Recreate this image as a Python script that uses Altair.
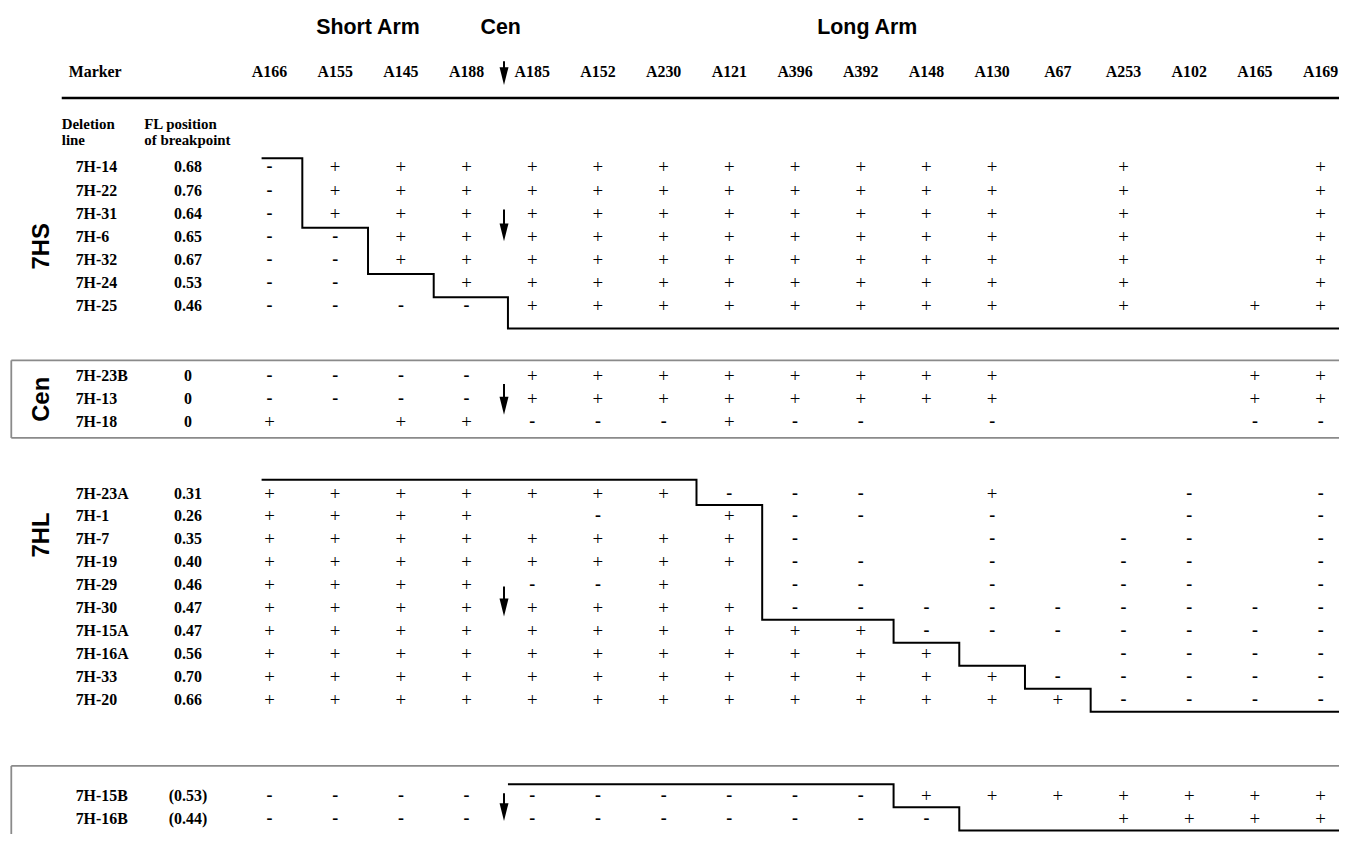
import altair as alt
import pandas as pd

# ---------------- data ----------------
markers = ["A166", "A155", "A145", "A188", "A185", "A152", "A230", "A121", "A396",
           "A392", "A148", "A130", "A67", "A253", "A102", "A165", "A169"]
arm_titles = ["Short Arm", "Cen", "Long Arm"]
section_names = ["7HS", "Cen", "7HL", ""]

hs_lines = ["7H-14", "7H-22", "7H-31", "7H-6", "7H-32", "7H-24", "7H-25"]
hs_fl = ["0.68", "0.76", "0.64", "0.65", "0.67", "0.53", "0.46"]
hs_calls = [
    "- + + + + + + + + + + + . + . . +",
    "- + + + + + + + + + + + . + . . +",
    "- + + + + + + + + + + + . + . . +",
    "- - + + + + + + + + + + . + . . +",
    "- - + + + + + + + + + + . + . . +",
    "- - . + + + + + + + + + . + . . +",
    "- - - - + + + + + + + + . + . + +",
]
hs_break = [1, 1, 1, 2, 2, 3, 4]

cen_lines = ["7H-23B", "7H-13", "7H-18"]
cen_fl = ["0", "0", "0"]
cen_calls = [
    "- - - - + + + + + + + + . . . + +",
    "- - - - + + + + + + + + . . . + +",
    "+ . + + - - - + - - . - . . . - -",
]

hl_lines = ["7H-23A", "7H-1", "7H-7", "7H-19", "7H-29", "7H-30", "7H-15A", "7H-16A", "7H-33", "7H-20"]
hl_fl = ["0.31", "0.26", "0.35", "0.40", "0.46", "0.47", "0.47", "0.56", "0.70", "0.66"]
hl_calls = [
    "+ + + + + + + - - - . + . . - . -",
    "+ + + + . - . + - - . - . . - . -",
    "+ + + + + + + + - . . - . - - . -",
    "+ + + + + + + + - - . - . - - . -",
    "+ + + + - - + . - - . - . - - . -",
    "+ + + + + + + + - - - - - - - - -",
    "+ + + + + + + + + + - - - - - - -",
    "+ + + + + + + + + + + . . - - - -",
    "+ + + + + + + + + + + + - - - - -",
    "+ + + + + + + + + + + + + - - - -",
]
hl_break = [7, 8, 8, 8, 8, 8, 10, 11, 12, 13]

tr_lines = ["7H-15B", "7H-16B"]
tr_fl = ["(0.53)", "(0.44)"]
tr_calls = [
    "- - - - - - - - - - + + + + + + +",
    "- - - - - - - - - - - . . + + + +",
]
tr_break = [10, 11]

# ---------------- layout ----------------
W, H = 1339, 826
X_DOMAIN = [-3.98, 16.28]
Y_DOMAIN = [8, 8 + H]
CEN_U = 3.57        # centromere arrow column position
CEN_STAIR = 3.63
END_U = 16.6
NAME_U, FL_U = -2.95, -1.24
MARKER_U, HEAD1_U, HEAD2_U = -3.056, -3.162, -1.906
SEC_LABEL_U = -3.464
BOX_U = -3.93
TITLE_Y, MARKER_Y, RULE_Y, HEAD_Y = 26, 70, 96, [122, 138]
title_u = [1.5, CEN_U - 0.05, 9.1]

sections = [
    dict(lines=hs_lines, fl=hs_fl, calls=hs_calls, brk=hs_break, y0=166, step=23.3,
         top=-0.4, mid=0.6, bot=0.95, arrow=2.5, alen=32, label=3.4, start=-0.12),
    dict(lines=cen_lines, fl=cen_fl, calls=cen_calls, brk=None, y0=376, step=23.2,
         arrow=1.0, alen=31, label=1.0),
    dict(lines=hl_lines, fl=hl_fl, calls=hl_calls, brk=hl_break, y0=494, step=23.1,
         top=-0.6, mid=0.5, bot=0.5, arrow=4.7, alen=30, label=1.8, start=-0.12),
    dict(lines=tr_lines, fl=tr_fl, calls=tr_calls, brk=tr_break, y0=798, step=23,
         top=-0.5, mid=0.5, bot=0.52, arrow=0.5, alen=28, label=None, start=CEN_STAIR),
]


def bx(k):
    return CEN_STAIR if k == 4 else k - 0.5


cells, names, fls, stair, arrows, seclabels = [], [], [], [], [], []
for si, s in enumerate(sections):
    y0, st = s["y0"], s["step"]
    for i, (nm, fl, calls) in enumerate(zip(s["lines"], s["fl"], s["calls"])):
        y = y0 + i * st
        for j, c in enumerate(calls.split()):
            if c in "+-":
                cells.append({"u": j, "y": y, "sym": c})
        names.append({"u": NAME_U, "y": y, "t": nm})
        fls.append({"u": FL_U, "y": y, "t": fl})
    c = y0 + s["arrow"] * st
    arrows.append({"c": c, "alen": s["alen"]})
    if s["label"] is not None:
        seclabels.append({"u": SEC_LABEL_U, "y": y0 + s["label"] * st, "t": section_names[si]})
    brk = s["brk"]
    if brk:
        n = len(brk)
        top = y0 + s["top"] * st
        bot = y0 + (n - 1 + s["bot"]) * st
        pts = [(s["start"], top), (bx(brk[0]), top)]
        prev = brk[0]
        for i in range(1, n):
            if brk[i] != prev:
                ym = y0 + (i - 1 + s["mid"]) * st
                pts.append((bx(prev), ym))
                pts.append((bx(brk[i]), ym))
                prev = brk[i]
        pts.append((bx(prev), bot))
        pts.append((END_U, bot))
        for o, (u, y) in enumerate(pts):
            stair.append({"sec": si, "o": o, "u": u, "y": y})

# header arrow
arrows.insert(0, {"c": MARKER_Y + 1, "alen": 24})
HEAD_H = 18
arrow_rows = []
for a in arrows:
    tip = a["c"] + a["alen"] / 2
    arrow_rows.append({"u": CEN_U, "ytop": a["c"] - a["alen"] / 2,
                       "yshaft": tip - HEAD_H + 2, "yhead": tip - HEAD_H / 2})

cells = pd.DataFrame(cells)
names = pd.DataFrame(names)
fls = pd.DataFrame(fls)
stair = pd.DataFrame(stair)
arrow_df = pd.DataFrame(arrow_rows)
seclab_df = pd.DataFrame(seclabels)
marker_df = pd.DataFrame({"u": list(range(len(markers))), "y": MARKER_Y, "t": markers})
title_df = pd.DataFrame({"u": title_u, "y": TITLE_Y, "t": arm_titles})
head_df = pd.DataFrame({
    "u": [HEAD1_U, HEAD1_U, HEAD2_U, HEAD2_U],
    "y": [HEAD_Y[0], HEAD_Y[1], HEAD_Y[0], HEAD_Y[1]],
    "t": ["Deletion", "line", "FL position", "of breakpoint"],
})
mk_df = pd.DataFrame({"u": [MARKER_U], "y": [MARKER_Y], "t": ["Marker"]})
rule_df = pd.DataFrame({"u": [HEAD1_U], "u2": [END_U], "y": [RULE_Y]})
box_h = pd.DataFrame({"u": [BOX_U, BOX_U, BOX_U], "u2": [END_U, END_U, END_U],
                      "y": [360, 438, 768]})
box_v = pd.DataFrame({"u": [BOX_U, BOX_U], "y": [360, 768], "y2": [438, 850]})

xs = alt.Scale(domain=X_DOMAIN, nice=False, zero=False)
ys = alt.Scale(domain=Y_DOMAIN, nice=False, zero=False, reverse=True)


def X(f):
    return alt.X(f"{f}:Q", scale=xs, axis=None)


def Y(f):
    return alt.Y(f"{f}:Q", scale=ys, axis=None)


SERIF = "Liberation Serif"
SANS = "Liberation Sans"

plus = alt.Chart(cells).transform_filter("datum.sym == '+'").mark_text(
    font=SERIF, fontSize=19, color="black", baseline="middle"
).encode(x=X("u"), y=Y("y"), text="sym:N")
minus = alt.Chart(cells).transform_filter("datum.sym == '-'").mark_text(
    font=SERIF, fontSize=18, fontWeight="bold", color="black", baseline="middle"
).encode(x=X("u"), y=Y("y"), text="sym:N")

name_l = alt.Chart(names).mark_text(
    font=SERIF, fontSize=16, fontWeight="bold", align="left", baseline="middle", color="black"
).encode(x=X("u"), y=Y("y"), text="t:N")
fl_l = alt.Chart(fls).mark_text(
    font=SERIF, fontSize=16, fontWeight="bold", align="center", baseline="middle", color="black"
).encode(x=X("u"), y=Y("y"), text="t:N")
marker_l = alt.Chart(marker_df).mark_text(
    font=SERIF, fontSize=16, fontWeight="bold", align="center", baseline="middle", color="black"
).encode(x=X("u"), y=Y("y"), text="t:N")
mk_l = alt.Chart(mk_df).mark_text(
    font=SERIF, fontSize=16, fontWeight="bold", align="left", baseline="middle", color="black"
).encode(x=X("u"), y=Y("y"), text="t:N")
head_l = alt.Chart(head_df).mark_text(
    font=SERIF, fontSize=15, fontWeight="bold", align="left", baseline="middle", color="black"
).encode(x=X("u"), y=Y("y"), text="t:N")
title_l = alt.Chart(title_df).mark_text(
    font=SANS, fontSize=21.5, fontWeight="bold", align="center", baseline="middle", color="black"
).encode(x=X("u"), y=Y("y"), text="t:N")
sec_l = alt.Chart(seclab_df).mark_text(
    font=SANS, fontSize=24, fontWeight="bold", align="center", baseline="middle",
    angle=270, color="black"
).encode(x=X("u"), y=Y("y"), text="t:N")

thick = alt.Chart(rule_df).mark_rule(color="black", strokeWidth=2.6).encode(
    x=X("u"), x2="u2:Q", y=Y("y"))
boxh = alt.Chart(box_h).mark_rule(color="#8a8a8a", strokeWidth=1.8).encode(
    x=X("u"), x2="u2:Q", y=Y("y"))
boxv = alt.Chart(box_v).mark_rule(color="#8a8a8a", strokeWidth=1.8).encode(
    x=X("u"), y=Y("y"), y2="y2:Q")

stairs = alt.Chart(stair).mark_line(color="black", strokeWidth=2, strokeJoin="miter").encode(
    x=X("u"), y=Y("y"), detail="sec:N", order="o:Q")

shaft = alt.Chart(arrow_df).mark_rule(color="black", strokeWidth=2).encode(
    x=X("u"), y=Y("ytop"), y2="yshaft:Q")
head = alt.Chart(arrow_df).mark_point(
    shape="M -0.5 -1 L 0.5 -1 L 0 1 Z", size=HEAD_H * HEAD_H, filled=True,
    color="black", opacity=1, strokeWidth=0
).encode(x=X("u"), y=Y("yhead"))

chart = alt.layer(
    boxh, boxv, thick, stairs, shaft, head,
    plus, minus, name_l, fl_l, marker_l, mk_l, head_l, title_l, sec_l
).properties(
    width=W, height=H, padding=0, autosize=alt.AutoSizeParams(type="none"),
    background="white"
).configure_view(stroke=None)

chart.save("out.html", embed_options={"renderer": "svg", "actions": False})
